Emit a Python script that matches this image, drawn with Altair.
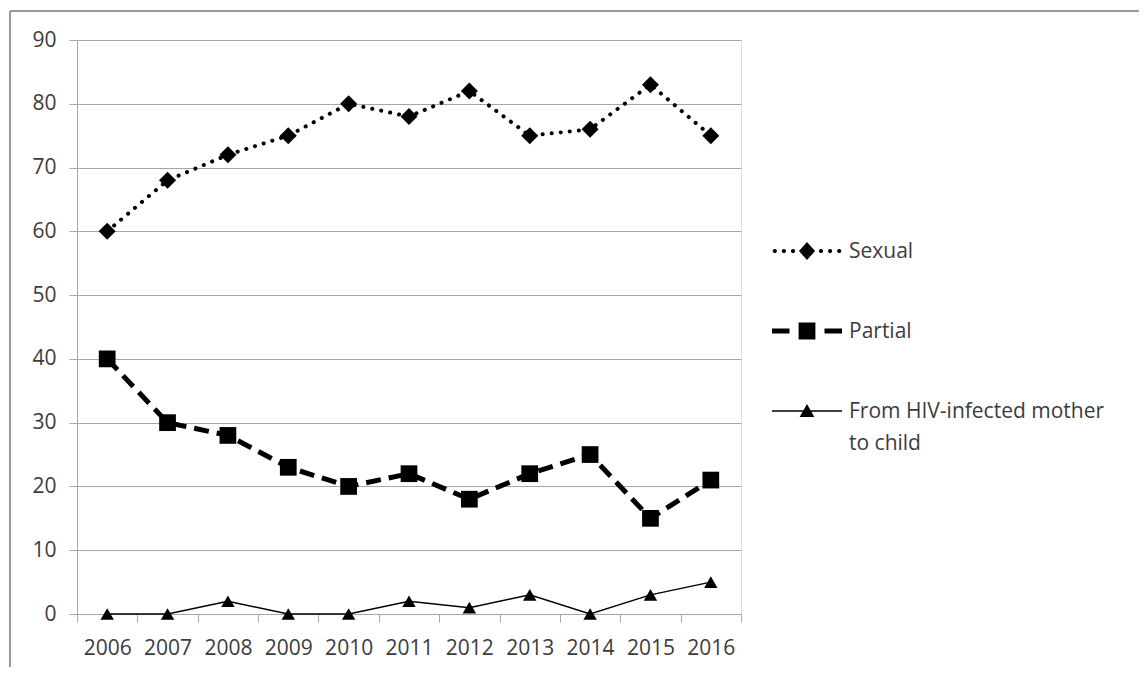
import altair as alt
import pandas as pd

years = ["2006", "2007", "2008", "2009", "2010", "2011", "2012", "2013", "2014", "2015", "2016"]
sexual = [60, 68, 72, 75, 80, 78, 82, 75, 76, 83, 75]
partial = [40, 30, 28, 23, 20, 22, 18, 22, 25, 15, 21]
mother_child = [0, 0, 2, 0, 0, 2, 1, 3, 0, 3, 5]
series_names = ["Sexual", "Partial", "From HIV-infected mother to child"]
y_ticks = [0, 10, 20, 30, 40, 50, 60, 70, 80, 90]

rows = []
for name, vals in zip(series_names, [sexual, partial, mother_child]):
    for yr, v in zip(years, vals):
        rows.append({"year": yr, "value": v, "series": name})
df = pd.DataFrame(rows)

FONT = "Open Sans"
TXT = "#3c3c3c"
GRID = "#a6a6a6"

x_enc = alt.X(
    "year:O",
    scale=alt.Scale(type="band", paddingInner=0, paddingOuter=0),
    bandPosition=0.5,
    axis=alt.Axis(
        title=None, labelAngle=0, tickBand="extent", grid=False,
        domainColor=GRID, tickColor=GRID, tickSize=8, labelPadding=15,
        labelFont=FONT, labelFontSize=21, labelColor=TXT,
    ),
)
y_enc = alt.Y(
    "value:Q",
    scale=alt.Scale(domain=[0, 90], nice=False),
    axis=alt.Axis(
        title=None, values=y_ticks, grid=True, gridColor=GRID,
        domainColor=GRID, tickColor=GRID, tickSize=8, labelPadding=13,
        labelFont=FONT, labelFontSize=21, labelColor=TXT,
    ),
)

base = alt.Chart(df)

line_sex = base.transform_filter(alt.datum.series == "Sexual").mark_line(
    color="black", strokeWidth=4, strokeDash=[0.1, 9], strokeCap="round"
).encode(x=x_enc, y=y_enc)
line_par = base.transform_filter(alt.datum.series == "Partial").mark_line(
    color="black", strokeWidth=5, strokeDash=[15, 8], strokeCap="butt"
).encode(x=x_enc, y=y_enc)
line_mc = base.transform_filter(alt.datum.series == series_names[2]).mark_line(
    color="black", strokeWidth=1.5
).encode(x=x_enc, y=y_enc)

pt_sex = base.transform_filter(alt.datum.series == "Sexual").mark_point(
    shape="diamond", filled=True, color="black", size=290, opacity=1
).encode(x=x_enc, y=y_enc)
pt_par = base.transform_filter(alt.datum.series == "Partial").mark_point(
    shape="square", filled=True, color="black", size=280, opacity=1
).encode(x=x_enc, y=y_enc)
pt_mc = base.transform_filter(alt.datum.series == series_names[2]).mark_point(
    shape="triangle-up", filled=True, color="black", size=180, opacity=1
).encode(x=x_enc, y=y_enc)

# legend symbols: line + marker drawn as custom paths (unit = symbol half-width)
def dot(cx, cy, r):
    return f"M{cx - r},{cy} a{r},{r} 0 1,0 {2 * r},0 a{r},{r} 0 1,0 {-2 * r},0 Z "

dy = -0.2
sym_sex = "".join(dot(cx, dy, 0.06) for cx in [-0.92, -0.66, -0.40, 0.40, 0.66, 0.92])
sym_sex += f"M0,{dy - 0.26} L0.23,{dy} L0,{dy + 0.26} L-0.23,{dy} Z"
sym_par = (f"M-1,{dy - 0.07} H-0.5 V{dy + 0.07} H-1 Z "
           f"M0.5,{dy - 0.07} H1 V{dy + 0.07} H0.5 Z "
           f"M-0.24,{dy - 0.24} H0.24 V{dy + 0.24} H-0.24 Z")
sym_mc = (f"M-1,{dy - 0.022} H1 V{dy + 0.022} H-1 Z "
          f"M-0.21,{dy + 0.17} L0,{dy - 0.2} L0.21,{dy + 0.17} Z")

legend_layer = base.transform_filter("false").mark_point(
    filled=True, color="black", opacity=1
).encode(
    x=x_enc, y=y_enc,
    shape=alt.Shape(
        "series:N",
        scale=alt.Scale(domain=series_names, range=[sym_sex, sym_par, sym_mc]),
        legend=alt.Legend(
            title=None, orient="none", legendX=695, legendY=183, padding=0,
            symbolSize=4900, symbolFillColor="black", symbolStrokeColor="black",
            symbolStrokeWidth=0, rowPadding=41, labelOffset=7,
            labelFont=FONT, labelFontSize=21, labelColor=TXT, labelLimit=400,
            labelBaseline="alphabetic",
            labelExpr="datum.label == 'From HIV-infected mother to child' ? ['From HIV-infected mother', 'to child'] : datum.label",
        ),
    ),
)

frame_left = alt.Chart(pd.DataFrame({"k": [0]})).mark_rule(color="#9a9a9a", strokeWidth=2).encode(
    x=alt.value(-67), y=alt.value(-29), y2=alt.value(800)
)
frame_top = alt.Chart(pd.DataFrame({"k": [0]})).mark_rule(color="#9a9a9a", strokeWidth=2).encode(
    x=alt.value(-67), x2=alt.value(1200), y=alt.value(-29)
)

chart = alt.layer(
    frame_left, frame_top,
    line_sex, line_par, line_mc, pt_sex, pt_par, pt_mc, legend_layer,
).properties(
    width=664, height=574,
    autosize=alt.AutoSizeParams(type="none"),
    padding={"left": 69, "top": 32, "right": 398, "bottom": 53},
).configure_view(stroke=None).configure(
    background="white", style={"guide-label": {"lineHeight": 32}}
)

chart.save("out.html", embed_options={"renderer": "svg", "actions": False})
